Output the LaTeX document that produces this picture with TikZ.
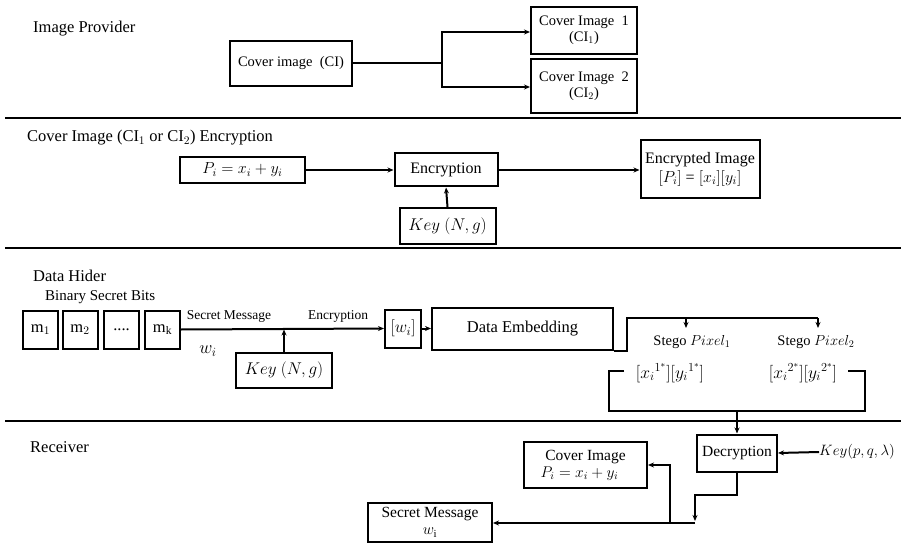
\RequirePackage{fix-cm}
\documentclass[tikz,border=0pt]{standalone}
\usepackage{fontspec}
\setmainfont{Liberation Serif}
\usetikzlibrary{arrows.meta}
\tikzset{
  bx/.style={draw, line width=2pt, inner sep=0pt, align=center, font=\fontsize{14.5}{16}\selectfont},
  lbl/.style={inner sep=0pt, font=\fontsize{13.5}{15}\selectfont},
  ttl/.style={inner sep=0pt, anchor=base west, font=\fontsize{16.5}{18}\selectfont},
  ln/.style={line width=2pt},
  arr/.style={line width=2pt, -{Stealth[length=6pt,width=5pt]}},
  sep/.style={line width=2pt}
}
\begin{document}
\begin{tikzpicture}[x=1pt,y=-1pt]
\useasboundingbox (0,0) rectangle (901,545);
% separators
\coordinate (s1a) at (5,118); \coordinate (s1b) at (901,118);
\coordinate (s2a) at (5,248); \coordinate (s2b) at (901,248);
\coordinate (s3a) at (5,421); \coordinate (s3b) at (901,421);
\draw[sep] (s1a) -- (s1b);
\draw[sep] (s2a) -- (s2b);
\draw[sep] (s3a) -- (s3b);

% ---------- Image Provider ----------
\node[ttl] (t1) at (33,33) {Image Provider};
\node[bx, minimum width=122pt, minimum height=45pt] (ci) at (291,63.5) {Cover image~~(CI)};
\node[bx, minimum width=106pt, minimum height=47pt] (ci1) at (584,30.5) {Cover Image~~1\\(CI$_1$)};
\node[bx, minimum width=106pt, minimum height=54pt] (ci2) at (584,86) {Cover Image~~2\\(CI$_2$)};
\coordinate (br) at (442,63.5);
\draw[ln] (ci.east) -- (br);
\draw[arr] (br) |- (ci1.west |- 0,32);
\draw[arr] (br) |- (ci2.west |- 0,87);

% ---------- Encryption ----------
\node[ttl] (t2) at (27,142) {Cover Image (CI$_1$ or CI$_2$) Encryption};
\node[bx, minimum width=125pt, minimum height=26pt, font=\fontsize{16}{18}\selectfont] (pi) at (242.5,170) {$P_i = x_i + y_i$};
\node[bx, minimum width=103pt, minimum height=33pt, font=\fontsize{16}{18}\selectfont] (enc) at (446,170) {Encryption};
\node[bx, minimum width=96pt, minimum height=36pt, font=\fontsize{17}{19}\selectfont] (key1) at (447.5,226) {$Key\ (N,g)$};
\node[bx, minimum width=119pt, minimum height=58pt, font=\fontsize{16}{19}\selectfont] (encimg) at (700,169) {Encrypted Image\\$[P_i]$ = $[x_i][y_i]$};
\draw[arr] (pi.east) -- (enc.west);
\draw[arr] (key1.north) -- (enc.south);
\draw[arr] (enc.east) -- (encimg.west |- enc.east);

% ---------- Data Hider ----------
\node[ttl] (t3) at (33,281) {Data Hider};
\node[ttl, font=\fontsize{15}{17}\selectfont] (t3b) at (45,300) {Binary Secret Bits};
\node[bx, minimum width=35pt, minimum height=38pt, font=\fontsize{16.5}{18}\selectfont] (m1) at (40.5,329.5) {m$_1$};
\node[bx, minimum width=35pt, minimum height=38pt, font=\fontsize{16.5}{18}\selectfont] (m2) at (80,329.5) {m$_2$};
\node[bx, minimum width=35pt, minimum height=38pt, font=\fontsize{16.5}{18}\selectfont] (md) at (121.5,329.5) {....};
\node[bx, minimum width=35pt, minimum height=38pt, font=\fontsize{16.5}{18}\selectfont] (mk) at (162.5,329.5) {m$_\mathrm{k}$};
\node[lbl] (smsg) at (229,316) {Secret Message};
\node[lbl] (encl) at (338,316) {Encryption};
\node[lbl, font=\fontsize{18}{20}\selectfont] (wl) at (208,351) {$w_i$};
\node[bx, minimum width=96pt, minimum height=35pt, font=\fontsize{17}{19}\selectfont] (key2) at (284,370) {$Key\ (N,g)$};
\node[bx, minimum width=36pt, minimum height=38pt, font=\fontsize{17}{19}\selectfont] (wi) at (403,328.5) {$[w_i]$};
\node[bx, minimum width=181pt, minimum height=42pt, font=\fontsize{16.5}{18}\selectfont] (demb) at (522.5,329) {Data Embedding};
\draw[arr] (mk.east) -- (wi.west);
\coordinate (kj) at (key2.north |- mk.east);
\draw[arr] (key2.north) -- (kj);
\draw[arr] (wi.east) -- (demb.west |- wi.east);
% split after embedding
\coordinate (dj) at (627,318);
\coordinate (p1t) at (686,328);
\coordinate (p2t) at (818,328);
\draw[ln] (demb.south east) -| (dj) -- (818,318);
\draw[arr] (686,318) -- (p1t);
\draw[arr] (818,318) -- (p2t);
\node[lbl, font=\fontsize{14.5}{16}\selectfont] (sp1) at (692,342) {Stego $Pixel_1$};
\node[lbl, font=\fontsize{14.5}{16}\selectfont] (sp2) at (816,342) {Stego $Pixel_2$};
\node[lbl, font=\fontsize{17.5}{19}\selectfont] (v1) at (670,373) {$[{x_i}^{1^*}][{y_i}^{1^*}]$};
\node[lbl, font=\fontsize{17.5}{19}\selectfont] (v2) at (803,373) {$[{x_i}^{2^*}][{y_i}^{2^*}]$};
\coordinate (b1) at (624,371);
\coordinate (b2) at (848,371);
\coordinate (bj) at (737,411);
\draw[ln] (b1) -- (609,371) -- (609,411) -- (865,411) -- (865,371) -- (b2);

% ---------- Receiver ----------
\node[ttl] (t4) at (30,452) {Receiver};
\node[bx, minimum width=80pt, minimum height=37pt, font=\fontsize{15.5}{17}\selectfont] (dec) at (737,453) {Decryption};
\node[lbl, font=\fontsize{15}{17}\selectfont, anchor=west] (key3) at (819,452) {$Key(p,q,\lambda)$};
\node[bx, minimum width=123pt, minimum height=46pt, font=\fontsize{15.5}{17}\selectfont] (cov) at (585.5,465) {Cover Image\\$P_i = x_i + y_i$\hspace*{12pt}};
\node[bx, minimum width=124pt, minimum height=39pt, font=\fontsize{15.5}{17}\selectfont] (sec) at (430,522.5) {Secret Message\\$w_\mathrm{i}$};
\draw[arr] (bj) -- (dec.north);
\draw[arr] (key3.west) -- (dec.east);
\coordinate (dd) at (695,521);
\coordinate (hj) at (695,523);
\coordinate (cj) at (670,523);
\draw[arr] (dec.south) |- (695,495) -- (dd);
\draw[arr] (hj) -- (sec.east |- hj);
\draw[arr] (cj) |- (cov.east);
\end{tikzpicture}
\end{document}
